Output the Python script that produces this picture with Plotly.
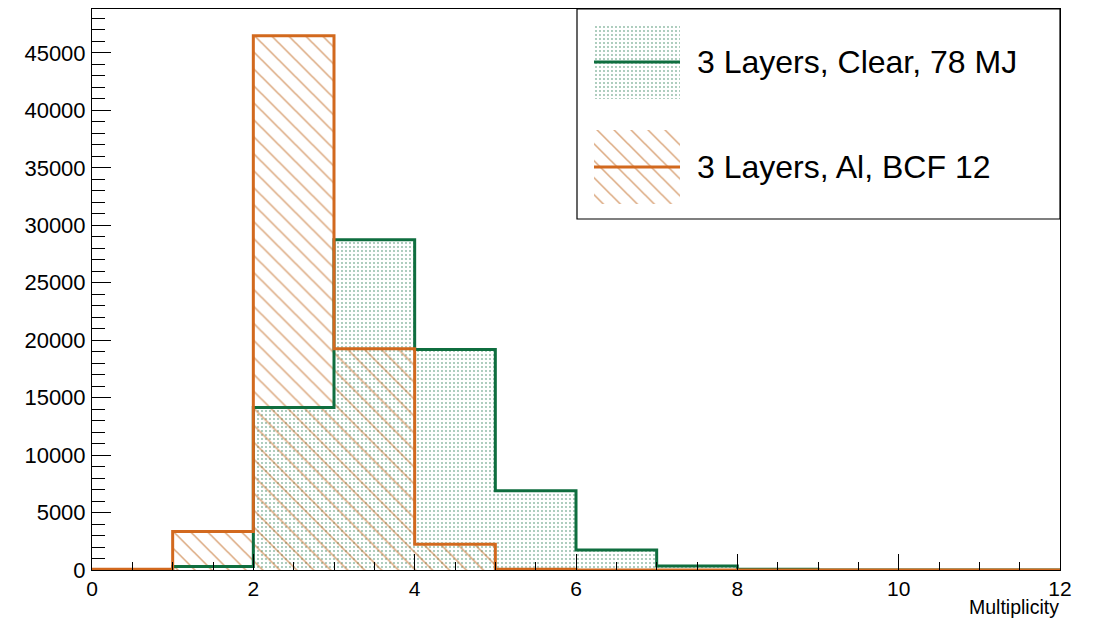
import plotly.graph_objects as go

# ---------------- data ----------------
bin_edges = [0, 1, 2, 3, 4, 5, 6, 7, 8, 9, 10, 11, 12]
clear_78mj = [0, 300, 14150, 28750, 19200, 6900, 1750, 350, 60, 10, 0, 0]
al_bcf12 = [60, 3350, 46500, 19250, 2250, 60, 5, 0, 0, 0, 0, 0]
series_names = ["3 Layers, Clear, 78 MJ", "3 Layers, Al, BCF 12"]
x_ticks = [0, 2, 4, 6, 8, 10, 12]
y_ticks = [0, 5000, 10000, 15000, 20000, 25000, 30000, 35000, 40000, 45000]
y_tick_labels = ["0", "5000", "10000", "15000", "20000", "25000", "30000", "35000", "40000", "45000"]
x_title = "Multiplicity"

GREEN = "#0f6e3f"
ORANGE = "#d2691e"
HATCH_ORANGE = "#b85200"
FONT = "Liberation Sans, Arial, Helvetica, sans-serif"

centers = [(a + b) / 2 for a, b in zip(bin_edges[:-1], bin_edges[1:])]
ymax = max(max(clear_78mj), max(al_bcf12)) * 1.05

dots = dict(shape=".", fgcolor=GREEN, bgcolor="rgba(0,0,0,0)", size=4, solidity=0.16)
hatch = dict(shape="\\", fgcolor=HATCH_ORANGE, bgcolor="rgba(0,0,0,0)", size=12, solidity=0.13)

fig = go.Figure()

# green histogram: fill + step outline
fig.add_trace(go.Bar(x=centers, y=clear_78mj, width=1, marker=dict(color="rgba(0,0,0,0)", pattern=dots, line=dict(width=0)),
                     showlegend=False, hoverinfo="skip"))
fig.add_trace(go.Scatter(x=bin_edges, y=clear_78mj + [clear_78mj[-1]], mode="lines", line=dict(color=GREEN, width=3, shape="hv"),
                         showlegend=False, name=series_names[0]))
# orange histogram
fig.add_trace(go.Bar(x=centers, y=al_bcf12, width=1, marker=dict(color="rgba(0,0,0,0)", pattern=hatch, line=dict(width=0)),
                     showlegend=False, hoverinfo="skip"))
fig.add_trace(go.Scatter(x=bin_edges, y=al_bcf12 + [al_bcf12[-1]], mode="lines", line=dict(color=ORANGE, width=3, shape="hv"),
                         showlegend=False, name=series_names[1]))

# ------------- custom legend (ROOT-style) on its own small axes -------------
W, H = 1094, 620
L, R, T, B = 92, 34, 9, 50
pw, ph = W - L - R, H - T - B


def px2x(p):
    return (p - L) / pw


def py2y(p):
    return (H - B - p) / ph


fig.add_trace(go.Bar(x=[0.5, 0.5], y=[1 - 0.5866, 0.4134], base=[0.5866, 0], width=1,
                     marker=dict(color="rgba(0,0,0,0)", pattern=dict(shape=[".", "\\"], fgcolor=[GREEN, HATCH_ORANGE],
                                                                      bgcolor="rgba(0,0,0,0)", size=[4, 12], solidity=[0.16, 0.13]),
                                 line=dict(width=0)),
                     xaxis="x2", yaxis="y2", showlegend=False, hoverinfo="skip"))
fig.add_trace(go.Scatter(x=[0, 1], y=[0.793, 0.793], mode="lines", line=dict(color=GREEN, width=3),
                         xaxis="x2", yaxis="y2", showlegend=False, hoverinfo="skip"))
fig.add_trace(go.Scatter(x=[0, 1], y=[0.207, 0.207], mode="lines", line=dict(color=ORANGE, width=3),
                         xaxis="x2", yaxis="y2", showlegend=False, hoverinfo="skip"))

annotations = [
    dict(x=px2x(695), y=py2y(62), xref="paper", yref="paper", text=series_names[0], showarrow=False,
         xanchor="left", yanchor="middle", font=dict(family=FONT, size=32, color="black")),
    dict(x=px2x(695), y=py2y(167), xref="paper", yref="paper", text=series_names[1], showarrow=False,
         xanchor="left", yanchor="middle", font=dict(family=FONT, size=32, color="black")),
    dict(x=1.0, y=py2y(607), xref="paper", yref="paper", text=x_title, showarrow=False,
         xanchor="right", yanchor="middle", xshift=0, borderpad=0, font=dict(family=FONT, size=19.5, color="black")),
]

shapes = [
    dict(type="rect", xref="paper", yref="paper", x0=px2x(577), x1=1.0, y0=py2y(219), y1=1.0,
         line=dict(color="black", width=1.2), fillcolor="rgba(0,0,0,0)", layer="above"),
]

fig.update_layout(
    width=W, height=H,
    margin=dict(l=L, r=R, t=T, b=B),
    paper_bgcolor="white", plot_bgcolor="white",
    barmode="overlay", bargap=0,
    font=dict(family=FONT, size=22, color="black"),
    showlegend=False,
    annotations=annotations,
    shapes=shapes,
    xaxis=dict(range=[0, 12], tickvals=x_ticks, ticks="inside", ticklen=16, tickwidth=1, tickcolor="black",
               minor=dict(dtick=0.5, ticks="inside", ticklen=8, tickwidth=1, tickcolor="black"),
               showline=True, linecolor="black", linewidth=1, mirror=True, showgrid=False, zeroline=False,
               tickfont=dict(family=FONT, size=21), ticklabelstandoff=0),
    yaxis=dict(range=[0, ymax], tickvals=y_ticks, ticktext=y_tick_labels, ticks="inside", ticklen=19, tickwidth=1,
               tickcolor="black",
               minor=dict(dtick=1000, ticks="inside", ticklen=13, tickwidth=1, tickcolor="black"),
               showline=True, linecolor="black", linewidth=1, mirror=True, showgrid=False, zeroline=False,
               tickfont=dict(family=FONT, size=22), ticklabelstandoff=1),
    xaxis2=dict(domain=[px2x(594), px2x(680)], range=[0, 1], visible=False, anchor="y2"),
    yaxis2=dict(domain=[py2y(204), py2y(25)], range=[0, 1], visible=False, anchor="x2"),
)

fig.write_html("out.html")
